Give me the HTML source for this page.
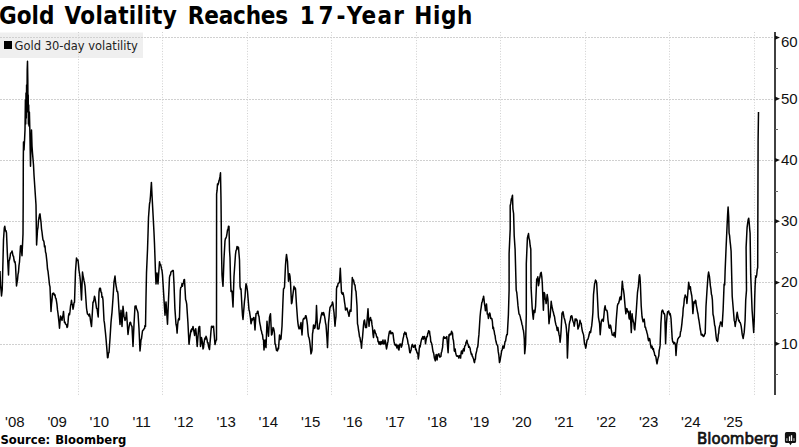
<!DOCTYPE html>
<html><head><meta charset="utf-8"><style>
html,body{margin:0;padding:0;background:#fff;}
body{width:799px;height:447px;overflow:hidden;position:relative;font-family:"DejaVu Sans","Liberation Sans",sans-serif;}
#title{position:absolute;left:0;top:1.5px;width:799px;height:30px;font-family:"DejaVu Sans Condensed","DejaVu Sans",sans-serif;font-stretch:condensed;font-weight:bold;font-size:24px;color:#000;white-space:nowrap;}
#title span{position:absolute;top:0;}
#legend{position:absolute;left:0;top:32px;width:143px;height:26px;}
#legend .sq{position:absolute;left:4px;top:9px;width:8px;height:8px;background:#000;}
#legend .tx{position:absolute;left:14.6px;top:7.3px;font-size:11.5px;color:#222;white-space:nowrap;}
#src{position:absolute;left:0.5px;top:433px;font-weight:bold;font-size:11.6px;color:#000;white-space:nowrap;word-spacing:1px;}
svg{position:absolute;left:0;top:0;}
</style></head><body>
<svg width="799" height="447" viewBox="0 0 799 447">
<rect x="0" y="32.5" width="143" height="25.5" fill="#efefef"/>
<g stroke="#d0d0d0" stroke-width="1" fill="none"><line x1="0" y1="344.5" x2="774" y2="344.5" stroke-dasharray="2,1"/><line x1="0" y1="282.5" x2="774" y2="282.5" stroke-dasharray="2,1"/><line x1="0" y1="221.5" x2="774" y2="221.5" stroke-dasharray="2,1"/><line x1="0" y1="160.5" x2="774" y2="160.5" stroke-dasharray="2,1"/><line x1="0" y1="99.5" x2="774" y2="99.5" stroke-dasharray="2,1"/><line x1="0" y1="37.5" x2="774" y2="37.5" stroke-dasharray="2,1"/><line x1="78.5" y1="32" x2="78.5" y2="395" stroke-dasharray="1,1.7"/><line x1="162.5" y1="32" x2="162.5" y2="395" stroke-dasharray="1,1.7"/><line x1="247.5" y1="32" x2="247.5" y2="395" stroke-dasharray="1,1.7"/><line x1="331.5" y1="32" x2="331.5" y2="395" stroke-dasharray="1,1.7"/><line x1="416.5" y1="32" x2="416.5" y2="395" stroke-dasharray="1,1.7"/><line x1="500.5" y1="32" x2="500.5" y2="395" stroke-dasharray="1,1.7"/><line x1="585.5" y1="32" x2="585.5" y2="395" stroke-dasharray="1,1.7"/><line x1="669.5" y1="32" x2="669.5" y2="395" stroke-dasharray="1,1.7"/><line x1="754.5" y1="32" x2="754.5" y2="395" stroke-dasharray="1,1.7"/></g>
<polyline fill="none" stroke="#000" stroke-width="1.5" stroke-linejoin="round" points="0.0,271.0 0.5,285.0 1.0,289.8 1.5,296.0 2.2,290.0 3.0,260.0 3.5,240.0 4.3,228.0 4.8,226.3 5.5,231.0 6.0,230.6 6.5,233.0 7.0,245.0 7.3,252.5 8.5,275.0 9.0,261.0 9.5,259.9 10.0,257.5 10.5,253.5 11.0,253.0 11.5,252.1 12.0,251.0 12.5,253.0 13.0,256.0 13.5,256.2 14.0,260.0 14.5,262.0 15.0,261.6 15.5,265.0 16.5,286.0 17.0,282.7 17.5,280.0 18.0,274.3 18.5,272.0 19.0,265.4 19.5,262.0 20.5,246.0 21.0,245.6 21.5,250.3 22.0,255.7 22.5,245.0 23.0,234.0 23.2,200.0 23.3,160.0 23.5,142.0 24.0,150.0 24.5,141.0 25.0,130.0 25.4,100.0 25.7,124.0 26.0,93.0 26.3,118.0 26.6,85.0 26.9,112.0 27.2,70.0 27.5,61.3 27.8,80.0 28.0,110.0 28.2,95.0 28.4,124.0 28.7,105.0 29.0,126.0 29.4,112.0 29.8,128.0 30.5,166.3 31.0,145.0 31.5,130.0 32.0,146.0 32.5,153.0 33.5,165.0 34.0,175.0 35.0,190.0 36.0,205.0 36.5,240.0 36.6,245.0 37.5,230.0 38.0,227.3 38.5,220.5 39.0,218.0 39.5,214.8 40.0,213.8 40.5,218.4 41.0,222.0 41.5,228.8 42.0,232.0 42.5,236.3 43.0,240.0 43.5,240.6 44.0,242.0 44.5,246.8 45.0,245.9 45.5,252.0 46.0,253.4 46.5,257.8 47.0,262.4 47.5,269.0 48.0,271.2 48.5,275.7 49.0,280.2 49.5,284.8 50.0,286.9 51.0,311.4 51.5,304.2 52.0,299.9 52.5,293.6 53.0,294.2 53.5,293.1 54.0,293.6 54.5,295.3 55.0,294.8 55.5,298.0 56.0,298.5 56.5,301.3 57.0,304.7 57.5,309.9 58.0,313.3 58.5,318.0 59.0,322.4 59.5,328.2 60.5,315.9 61.0,317.7 61.5,318.7 62.0,320.4 62.5,316.6 63.0,315.6 63.5,311.4 64.0,317.8 64.5,322.6 65.0,322.1 65.5,324.0 66.0,324.4 66.5,324.8 67.0,327.4 67.5,327.0 68.0,322.4 68.5,315.9 69.0,313.6 69.5,314.8 70.0,311.4 70.5,306.2 71.0,303.7 71.5,300.3 72.0,304.3 72.5,304.8 73.0,309.2 73.5,306.9 74.0,302.9 74.5,302.5 75.5,271.3 76.5,257.9 77.0,259.3 77.5,260.4 78.0,260.0 78.5,264.8 79.0,270.5 79.5,273.5 80.0,277.2 80.5,282.4 81.5,300.0 82.5,272.0 83.0,275.6 83.5,278.0 84.0,280.7 84.5,283.0 85.0,286.0 86.5,308.0 87.0,311.5 87.5,314.0 88.0,314.4 88.5,314.8 89.0,316.1 89.5,314.1 90.0,316.4 90.5,320.6 91.0,323.7 91.5,326.5 93.0,302.0 93.5,302.0 94.0,299.4 94.5,296.2 95.0,298.0 95.5,301.1 96.0,304.3 96.5,308.1 97.1,308.7 97.7,313.7 98.2,317.0 99.0,292.2 99.5,288.8 100.0,288.1 100.5,288.6 101.0,292.2 101.5,292.4 102.0,297.3 102.5,296.7 103.0,300.2 104.0,320.4 104.5,323.4 105.0,328.5 105.5,333.1 106.0,338.5 107.0,350.6 107.5,357.7 108.0,357.5 108.5,352.7 109.0,352.7 110.0,338.5 111.0,322.4 111.5,317.1 112.0,312.3 113.0,298.2 114.0,282.0 114.5,279.2 115.0,276.0 115.5,281.5 116.0,285.3 116.5,288.0 117.0,291.5 117.5,291.2 118.0,294.2 119.0,310.3 120.0,324.4 121.0,310.3 122.0,326.5 123.0,306.3 123.5,311.0 124.0,316.4 124.5,317.8 125.0,320.4 125.5,319.2 126.0,316.8 126.5,312.3 128.0,334.5 128.5,330.1 129.0,327.2 129.5,324.4 130.0,322.4 130.5,322.3 131.0,324.3 131.5,325.8 132.0,326.4 133.0,346.5 134.0,324.2 135.0,306.3 135.5,306.1 136.0,305.8 136.5,308.6 137.0,309.7 137.5,311.0 138.0,313.0 139.0,328.7 140.0,351.0 140.5,345.7 141.0,339.8 141.5,338.6 142.0,334.6 142.5,330.9 143.0,330.2 143.5,329.9 144.0,328.7 144.5,328.6 145.0,325.4 145.5,326.4 146.0,297.4 146.5,272.9 147.5,250.0 148.0,234.6 148.5,217.5 149.5,204.0 150.0,201.4 150.5,195.7 151.4,182.4 152.0,195.0 153.0,213.7 154.0,232.7 154.5,244.0 155.0,258.0 155.5,272.9 156.0,284.0 156.5,279.6 157.0,272.9 157.5,279.9 158.0,284.0 159.5,261.7 160.0,264.4 160.5,264.3 161.0,266.2 161.5,268.7 162.0,270.5 162.5,275.0 164.0,299.6 165.0,315.3 166.0,301.9 167.5,324.2 168.5,299.6 169.5,277.3 170.0,275.1 170.5,275.0 170.9,272.1 171.4,271.4 171.9,271.4 172.4,270.5 172.8,270.6 173.3,270.6 174.0,284.0 174.9,308.6 176.0,324.2 176.6,326.9 177.1,333.1 177.7,324.4 178.3,319.7 178.9,318.3 179.4,319.7 180.3,290.7 180.7,287.6 181.2,287.2 181.6,286.2 182.0,283.6 182.5,286.2 182.9,284.0 183.4,283.0 184.0,279.7 184.5,279.6 185.6,299.6 186.1,300.9 186.7,304.1 187.9,322.0 189.0,344.3 189.5,340.0 190.0,336.3 190.5,333.1 191.0,330.1 191.4,331.6 191.9,328.7 192.4,329.5 193.0,326.4 193.5,329.3 194.1,332.3 194.6,335.4 195.1,330.4 195.7,328.7 196.2,333.0 196.7,339.9 197.2,346.5 198.6,328.7 199.1,326.6 199.7,326.4 200.5,346.5 201.0,343.4 201.5,337.6 202.0,340.0 202.5,343.2 203.0,348.9 203.5,347.7 204.0,343.1 204.5,340.0 205.0,338.0 205.5,339.0 206.0,336.3 206.5,337.6 207.0,339.4 207.5,342.8 208.0,342.6 208.5,346.4 209.0,348.0 209.5,349.5 210.0,342.7 210.5,337.4 211.0,330.8 211.5,326.3 212.0,327.4 212.5,326.4 213.0,327.4 213.5,326.3 215.0,344.5 215.5,342.3 216.0,340.4 216.5,340.0 216.6,194.0 217.1,190.2 217.5,184.0 218.0,184.8 218.5,183.1 219.0,180.6 219.5,179.2 220.0,176.7 220.5,172.8 221.0,200.0 221.5,250.0 222.0,275.0 222.5,281.6 223.0,286.3 224.0,258.8 225.0,240.9 225.5,238.3 226.0,238.0 226.5,236.4 227.0,233.6 227.5,230.0 228.0,229.7 228.5,226.2 229.0,226.4 229.5,250.0 230.0,257.5 230.5,278.8 231.0,291.4 231.5,290.5 232.0,291.4 233.0,306.9 234.0,276.3 235.5,254.3 236.0,250.7 236.5,249.9 237.0,246.5 237.5,248.7 238.0,247.0 238.5,247.6 239.5,260.0 240.0,286.3 240.5,289.3 241.0,288.8 242.0,307.5 242.5,315.4 243.0,319.4 244.5,301.0 245.0,297.1 245.5,289.0 246.0,283.8 246.5,285.2 247.0,287.8 247.5,291.4 249.0,310.0 249.5,311.3 250.0,315.0 250.5,318.2 251.0,323.8 251.5,321.8 252.0,318.8 252.5,320.1 253.0,319.5 253.5,317.7 254.0,317.5 255.0,330.0 256.0,313.8 256.5,313.6 257.0,313.3 257.5,311.3 258.0,311.3 258.5,315.3 259.0,316.3 259.5,321.3 260.0,324.1 260.5,326.3 261.0,329.8 261.5,331.2 262.0,333.8 262.5,334.6 263.0,339.1 263.5,340.0 264.0,350.0 264.5,344.3 265.0,340.0 265.5,345.0 266.0,347.6 267.0,321.3 267.5,328.2 268.0,330.9 268.5,336.3 269.5,317.5 270.0,315.3 270.5,313.8 271.5,335.0 272.0,334.3 272.5,331.0 273.0,327.6 273.5,328.3 274.0,330.2 274.5,333.8 275.0,343.9 275.5,344.4 276.0,347.6 276.5,350.4 277.0,350.0 277.5,350.9 278.0,347.9 278.5,348.9 279.5,335.0 280.0,337.6 280.5,339.5 281.0,338.8 282.0,326.3 283.0,300.0 283.5,288.8 284.0,288.5 284.5,287.0 285.5,265.0 286.0,259.1 286.5,254.4 287.0,258.0 287.5,261.3 288.5,281.3 289.0,276.1 289.5,273.8 290.0,276.3 290.5,282.6 291.5,303.8 292.0,302.4 292.5,297.8 293.0,293.9 293.5,290.2 294.0,286.3 294.5,288.9 295.0,287.7 295.5,288.8 296.5,305.0 297.5,318.8 298.0,323.6 298.5,326.8 299.0,328.8 299.5,327.6 300.0,328.8 300.5,324.7 301.0,322.6 302.0,335.0 303.0,320.0 303.5,318.8 304.0,318.2 304.5,318.8 305.0,318.1 305.5,315.8 306.0,315.7 306.5,318.2 307.0,321.3 307.5,325.5 308.0,332.6 308.5,336.7 309.0,337.6 309.5,340.2 310.0,343.9 310.5,348.7 311.0,353.9 311.5,352.3 312.0,350.0 312.5,333.8 313.0,331.0 313.5,325.0 314.0,325.5 314.5,328.4 315.0,327.6 315.5,323.8 316.0,320.0 316.5,305.6 317.5,328.8 318.0,328.9 318.5,328.9 319.0,328.8 319.5,323.8 320.0,322.6 320.5,319.2 321.0,316.3 321.5,314.2 322.0,312.6 322.5,313.8 323.0,315.0 323.5,312.5 324.0,313.8 324.5,316.2 325.0,318.8 325.5,322.8 326.0,325.0 327.0,338.8 327.5,347.6 328.5,322.6 329.0,317.8 329.5,311.8 330.0,307.5 330.5,306.7 331.0,306.1 331.5,305.0 332.0,304.6 332.5,301.9 333.0,303.9 333.5,309.2 334.0,312.5 335.0,326.3 335.5,320.3 336.0,316.3 336.5,288.8 337.0,286.2 337.5,286.6 338.0,283.8 338.5,283.2 339.0,282.8 339.5,282.0 340.3,268.2 341.5,292.6 342.0,293.6 342.5,294.2 343.0,292.6 343.5,294.9 344.0,297.6 344.5,301.8 345.0,305.0 345.5,310.0 346.0,309.4 346.5,308.7 347.0,308.0 347.5,310.8 348.0,312.0 348.5,314.0 349.0,316.3 349.5,313.3 350.0,310.0 350.5,310.6 351.0,311.3 352.3,277.6 352.9,280.6 353.5,280.0 354.0,282.5 354.5,284.8 355.0,285.0 355.5,290.0 356.0,291.4 357.0,306.0 357.5,323.8 358.0,325.9 358.5,330.0 359.0,332.8 359.5,336.8 360.0,337.6 360.5,341.5 361.0,342.6 361.5,348.2 362.0,341.4 362.5,337.6 363.5,325.0 364.0,321.0 364.5,320.0 365.0,323.6 365.5,327.6 366.0,325.9 366.5,327.6 368.0,308.8 369.0,326.3 369.5,321.5 370.0,318.8 370.5,317.5 371.0,320.3 371.5,320.0 372.0,324.9 372.5,327.6 373.0,334.2 373.5,337.6 374.0,331.3 374.5,329.9 375.0,331.3 375.5,333.4 376.0,333.8 376.5,336.3 377.0,337.6 377.5,337.4 378.0,341.7 378.5,341.4 379.0,344.1 379.5,341.9 380.0,343.9 380.5,344.5 381.0,341.4 381.5,342.2 382.0,343.9 382.5,341.9 383.0,340.0 383.5,343.9 384.0,343.9 384.5,343.3 385.0,340.0 385.5,341.6 386.0,345.7 386.5,348.9 387.0,346.5 387.5,343.3 388.0,341.4 388.5,336.8 389.0,333.9 389.5,331.3 390.0,333.0 390.5,331.0 391.0,333.8 391.5,333.6 392.0,332.8 392.5,332.6 393.0,333.6 393.5,337.8 394.0,341.4 394.5,343.7 395.0,345.0 395.5,345.5 396.0,344.2 396.5,346.4 397.0,347.9 397.5,346.6 398.0,345.0 398.5,349.4 399.0,350.0 399.5,345.4 400.0,343.9 400.4,344.1 400.9,344.3 401.3,347.3 401.9,345.8 402.5,342.0 403.1,338.4 403.6,336.6 404.0,333.6 404.5,333.3 404.9,332.1 405.5,334.2 406.1,333.0 406.6,337.0 407.2,338.4 407.6,340.1 408.1,343.8 408.7,345.0 409.3,349.1 409.8,352.6 410.2,352.7 410.6,351.2 411.1,349.9 411.5,347.3 412.0,345.1 412.4,344.4 412.9,345.6 413.4,347.2 413.8,347.3 414.2,346.2 414.7,345.6 415.2,345.1 415.6,349.7 416.1,349.1 416.5,350.8 417.0,352.7 417.4,352.7 417.9,354.2 418.3,359.0 418.8,355.5 419.2,349.1 419.7,345.6 420.1,347.0 420.6,343.8 421.0,341.8 421.5,339.6 421.9,338.4 422.4,337.7 422.8,336.6 423.2,339.2 423.7,338.4 424.1,336.6 424.6,336.6 425.1,338.7 425.5,343.8 425.9,341.2 426.4,338.4 426.9,336.5 427.3,336.6 427.8,333.2 428.2,333.0 428.6,330.7 429.1,331.2 429.5,331.2 429.9,334.8 430.4,337.2 430.8,342.0 431.2,342.1 431.7,343.8 432.1,345.7 432.6,349.1 433.1,351.9 433.5,352.7 433.9,354.6 434.4,358.1 434.9,359.5 435.3,360.8 435.8,356.4 436.2,354.5 436.6,356.6 437.1,359.9 437.6,355.3 438.0,354.5 438.5,354.1 438.9,353.8 439.4,356.3 439.9,357.2 440.4,356.5 440.9,356.3 441.3,352.7 441.8,351.4 442.2,349.1 442.6,347.3 443.0,342.0 443.4,337.7 443.9,336.6 444.4,338.3 445.0,337.5 445.4,337.7 445.9,338.4 446.4,337.5 446.8,336.6 448.1,352.7 449.0,334.8 449.4,335.7 449.9,333.9 450.4,333.9 450.8,334.8 451.2,333.0 451.6,331.2 452.1,332.9 452.5,333.0 452.9,338.5 453.4,340.2 453.9,344.9 454.3,350.9 454.8,351.3 455.2,349.1 455.6,352.6 456.1,354.5 456.6,355.9 457.0,356.3 457.4,355.9 457.9,356.3 458.4,356.6 458.8,358.1 459.2,355.4 459.7,356.3 460.1,355.7 460.6,358.1 461.1,352.8 461.5,350.9 461.9,353.2 462.4,353.6 462.9,350.4 463.3,349.1 463.8,348.7 464.2,350.9 464.6,346.6 465.1,345.6 465.6,345.2 466.0,342.0 466.4,342.6 466.9,340.2 467.4,342.7 467.8,343.8 468.2,344.7 468.7,347.3 469.1,346.3 469.6,347.3 470.1,348.3 470.5,350.9 470.9,352.5 471.4,354.5 471.9,354.0 472.3,356.3 472.8,357.0 473.2,358.1 473.6,359.0 474.1,361.7 474.5,362.6 474.9,359.9 475.4,359.1 475.8,354.5 476.2,352.9 476.7,350.9 477.1,348.1 477.6,347.3 478.0,345.0 478.5,338.3 478.9,334.9 480.1,316.3 480.6,311.2 481.2,307.3 481.8,302.6 482.3,301.8 482.7,299.5 483.2,298.0 483.6,296.2 484.1,300.1 484.5,304.0 484.9,306.2 485.4,310.7 485.9,307.4 486.5,304.0 487.3,314.1 487.9,314.3 488.4,318.5 489.0,314.8 489.6,312.9 490.1,314.1 490.7,318.5 491.2,318.1 491.8,318.5 492.4,321.7 492.9,328.6 493.4,327.2 493.8,329.7 494.2,331.2 494.6,334.2 495.1,335.6 495.5,339.2 496.1,341.8 496.6,343.7 497.1,344.9 497.7,345.9 498.2,351.4 498.8,354.8 499.5,362.6 500.1,360.5 500.6,357.1 501.1,354.6 501.7,350.4 502.3,349.7 502.9,345.9 503.4,346.6 504.0,348.1 504.6,344.1 505.1,341.4 505.6,341.1 506.2,337.0 506.8,334.4 507.3,334.7 508.4,314.6 509.1,290.1 509.1,253.7 510.2,229.1 510.2,205.7 510.8,203.2 511.3,199.0 511.9,197.7 512.5,195.2 512.9,209.0 513.6,213.5 514.2,235.8 515.1,249.2 516.2,290.1 516.8,292.7 517.4,299.0 518.0,305.9 518.5,310.2 519.0,314.0 519.6,314.6 520.3,316.9 520.8,319.6 521.4,321.3 522.0,324.5 522.5,325.8 523.0,329.3 523.4,330.3 523.8,333.3 524.3,339.2 524.7,353.7 525.2,348.8 525.6,343.7 526.3,314.6 526.3,263.7 527.4,238.0 528.0,235.8 528.5,233.6 529.0,238.3 529.6,240.3 530.2,246.0 530.8,249.2 531.1,287.9 532.2,308.0 532.8,314.9 533.3,319.2 534.0,310.3 534.5,311.7 534.9,312.5 535.6,305.8 536.7,279.0 537.2,279.5 537.8,276.8 538.5,285.7 539.0,283.1 539.4,279.0 540.0,277.0 540.5,273.4 541.2,272.3 541.8,276.8 542.3,283.5 543.4,310.3 544.1,292.4 544.7,293.9 545.2,299.1 545.7,299.9 546.1,303.6 546.7,298.5 547.2,294.6 547.9,299.1 549.0,323.7 549.5,318.8 550.1,317.0 551.2,301.3 551.8,306.0 552.3,308.0 552.8,310.5 553.4,312.5 554.0,315.3 554.6,317.0 555.0,320.3 555.5,322.8 556.0,325.0 556.5,326.2 557.2,330.5 557.9,327.6 558.5,331.2 559.1,334.9 559.6,336.6 560.1,342.2 560.6,337.5 561.1,330.5 562.0,313.1 562.5,313.3 563.0,311.6 563.5,314.5 564.0,317.4 564.5,319.0 564.9,320.3 565.4,323.1 565.9,324.7 566.4,328.8 566.9,336.3 567.4,358.1 568.4,333.4 568.8,330.0 569.2,324.7 569.8,321.5 570.3,320.3 570.8,316.4 571.3,316.0 571.8,315.8 572.2,317.4 572.7,320.5 573.2,321.8 573.7,322.8 574.2,326.2 574.7,323.5 575.1,318.9 575.6,320.8 576.1,318.9 576.6,319.6 577.1,320.3 577.5,324.2 578.0,329.1 578.5,327.6 579.0,326.2 579.5,324.0 580.0,320.3 580.6,322.9 581.2,323.3 581.6,326.7 582.0,329.1 582.5,331.8 583.1,333.4 583.6,335.1 584.0,338.8 584.5,343.6 585.1,344.9 585.7,348.2 586.2,345.8 586.8,341.5 587.3,339.6 587.9,339.3 588.5,337.3 589.1,334.8 589.6,332.1 590.1,331.6 590.6,332.6 591.2,328.3 591.7,325.9 592.3,319.9 592.9,312.5 593.5,294.6 594.0,289.8 594.6,283.5 595.0,282.5 595.5,280.1 596.1,281.0 596.7,283.5 597.3,294.6 598.4,317.0 599.0,320.4 599.6,323.7 600.2,334.8 601.3,321.4 601.8,320.2 602.2,319.2 602.8,320.2 603.3,321.4 604.0,314.7 604.5,308.7 605.1,305.8 605.7,309.6 606.2,310.3 606.8,310.2 607.4,312.5 608.0,320.0 608.5,323.7 609.0,327.6 609.6,328.1 610.2,325.1 610.7,325.9 611.2,329.1 611.8,332.6 612.3,335.0 612.9,334.8 613.5,335.6 614.1,332.6 614.7,334.6 615.2,337.1 616.3,319.2 617.4,305.8 618.0,303.8 618.5,303.6 619.2,301.3 619.8,297.9 620.3,296.9 620.8,299.8 621.2,299.1 622.3,281.2 623.0,287.9 623.5,290.1 624.1,294.6 624.8,303.0 625.3,308.7 625.9,313.8 626.3,309.7 626.7,308.4 627.2,309.4 627.6,312.0 628.1,311.1 628.5,312.3 629.0,317.7 629.4,319.1 629.8,315.1 630.2,311.1 631.3,332.6 632.1,313.8 632.5,318.0 633.0,319.9 633.4,321.8 633.9,323.4 634.3,328.8 634.8,329.9 636.1,313.8 637.5,292.3 637.9,289.5 638.3,286.9 638.8,281.5 639.2,276.2 639.6,274.8 640.0,277.5 640.4,284.2 641.2,305.7 642.0,316.5 642.5,319.1 643.1,321.8 643.7,320.3 644.2,319.1 644.6,322.4 645.0,327.2 645.5,327.1 646.1,329.9 646.5,330.6 646.9,332.6 647.5,334.6 648.0,338.0 648.5,340.7 649.0,340.6 649.5,338.5 650.0,340.3 650.4,343.8 650.9,346.7 651.3,347.9 651.8,345.9 652.3,347.0 652.8,349.6 653.4,348.7 653.8,351.3 654.2,352.1 654.8,355.4 655.4,355.4 655.9,357.1 656.4,360.5 657.0,363.8 657.5,361.1 657.9,358.9 658.4,357.1 658.8,355.7 659.2,350.4 659.7,348.3 660.1,345.4 660.9,323.6 661.7,311.8 662.2,310.4 662.6,310.1 663.2,311.5 663.8,313.5 664.3,313.5 664.8,315.2 665.6,343.7 666.4,323.6 667.1,315.2 667.6,311.7 668.1,311.8 668.7,311.1 669.3,313.5 669.7,314.8 670.1,313.5 670.5,315.1 671.0,318.5 671.8,331.9 672.2,338.7 672.7,342.0 673.2,341.8 673.8,343.7 674.3,342.4 674.8,342.9 675.5,345.4 676.0,355.4 676.8,343.7 677.3,342.1 677.7,339.1 678.2,338.7 678.8,337.3 679.4,337.0 680.0,336.3 680.5,331.9 681.0,330.7 681.4,327.6 681.9,323.6 682.3,319.1 682.8,315.2 683.2,308.5 683.8,305.2 684.4,298.4 684.8,296.9 685.2,295.0 685.7,296.7 686.1,296.7 686.5,298.2 686.9,303.4 687.3,299.3 687.8,293.4 688.7,282.3 689.2,285.5 689.6,289.0 690.0,288.9 690.4,286.8 690.8,290.7 691.3,293.5 691.8,296.0 692.2,300.2 692.9,313.6 693.6,304.6 694.0,301.7 694.5,302.4 695.0,303.0 695.4,300.2 695.8,300.9 696.2,304.6 696.8,307.8 697.4,311.3 698.0,314.0 698.5,318.0 699.0,320.5 699.6,324.7 700.2,329.0 700.7,331.4 701.2,335.0 701.8,334.8 702.3,334.4 702.9,335.9 703.5,336.5 704.1,335.9 704.7,334.0 705.2,333.7 706.0,306.3 707.0,290.2 708.0,276.1 708.6,272.1 709.0,274.3 709.4,276.1 709.9,280.7 710.4,286.2 710.9,288.9 711.4,294.2 711.9,295.8 712.4,300.2 713.0,314.3 713.5,316.2 714.1,320.4 714.6,325.0 715.1,326.4 715.6,331.4 716.1,336.5 716.7,340.5 717.1,339.9 717.5,341.5 717.9,339.6 718.3,334.4 718.7,333.4 719.1,328.4 719.6,326.2 720.1,324.4 720.6,322.0 721.1,322.4 721.6,323.2 722.1,326.4 723.1,310.3 724.1,284.1 724.7,284.9 725.1,271.5 726.1,247.3 727.1,225.2 727.7,213.1 728.1,207.1 728.7,217.1 729.1,233.2 729.6,235.6 730.1,241.3 730.6,245.7 731.1,251.3 732.2,296.2 733.2,308.3 734.2,320.4 734.7,321.8 735.2,326.4 735.7,322.4 736.2,320.4 736.7,315.4 737.2,312.3 737.7,315.6 738.2,318.4 738.7,320.9 739.2,320.4 739.7,322.4 740.2,322.4 740.7,324.1 741.2,326.4 741.7,330.1 742.2,334.4 742.7,336.5 743.2,338.5 743.7,335.0 744.2,332.4 745.1,320.3 745.7,300.2 746.5,290.1 746.1,247.4 747.1,227.3 747.6,223.6 748.2,219.5 748.7,218.2 749.2,222.9 749.7,229.3 750.1,233.3 750.7,274.9 752.1,310.2 753.1,324.3 753.7,332.4 754.3,318.3 754.7,298.2 755.1,286.1 755.7,276.0 756.2,277.3 756.7,274.9 757.2,269.7 757.7,267.5 758.1,140.2 758.5,112.1"/>
<line x1="775" y1="32" x2="775" y2="395" stroke="#111" stroke-width="1.6"/>
<g fill="#111"><polygon points="775,341.6 780,343.8 775,346.0"/><polygon points="775,280.4 780,282.6 775,284.8"/><polygon points="775,219.1 780,221.3 775,223.5"/><polygon points="775,157.9 780,160.1 775,162.3"/><polygon points="775,96.6 780,98.8 775,101.0"/><polygon points="775,35.4 780,37.6 775,39.8"/></g>
<g stroke="#666" stroke-width="1"><line x1="775" y1="374.5" x2="778" y2="374.5"/><line x1="775" y1="313.5" x2="778" y2="313.5"/><line x1="775" y1="252.5" x2="778" y2="252.5"/><line x1="775" y1="191.5" x2="778" y2="191.5"/><line x1="775" y1="129.5" x2="778" y2="129.5"/><line x1="775" y1="68.5" x2="778" y2="68.5"/></g>
<g font-family="Liberation Sans, sans-serif" font-size="15" fill="#111"><text x="781" y="348.6">10</text><text x="781" y="287.4">20</text><text x="781" y="226.1">30</text><text x="781" y="164.9">40</text><text x="781" y="103.6">50</text><text x="781" y="47.0">60</text></g>
<g font-family="Liberation Sans, sans-serif" font-size="15" fill="#111"><text x="14.9" y="426.5" text-anchor="middle">&#39;08</text><text x="57.2" y="426.5" text-anchor="middle">&#39;09</text><text x="99.4" y="426.5" text-anchor="middle">&#39;10</text><text x="141.7" y="426.5" text-anchor="middle">&#39;11</text><text x="183.9" y="426.5" text-anchor="middle">&#39;12</text><text x="226.2" y="426.5" text-anchor="middle">&#39;13</text><text x="268.4" y="426.5" text-anchor="middle">&#39;14</text><text x="310.7" y="426.5" text-anchor="middle">&#39;15</text><text x="352.9" y="426.5" text-anchor="middle">&#39;16</text><text x="395.2" y="426.5" text-anchor="middle">&#39;17</text><text x="437.4" y="426.5" text-anchor="middle">&#39;18</text><text x="479.7" y="426.5" text-anchor="middle">&#39;19</text><text x="521.9" y="426.5" text-anchor="middle">&#39;20</text><text x="564.2" y="426.5" text-anchor="middle">&#39;21</text><text x="606.4" y="426.5" text-anchor="middle">&#39;22</text><text x="648.7" y="426.5" text-anchor="middle">&#39;23</text><text x="690.9" y="426.5" text-anchor="middle">&#39;24</text><text x="733.2" y="426.5" text-anchor="middle">&#39;25</text></g>
<path d="M786.6,432 H794.4 Q796.1,432 796.1,433.7 V441.4 Q796.1,443.1 794.4,443.1 H791.9 L790.5,445.3 L789.1,443.1 H786.6 Q784.9,443.1 784.9,441.4 V433.7 Q784.9,432 786.6,432 Z" fill="#111"/>
<g fill="#fff"><rect x="786.2" y="438.2" width="1.3" height="2.8" opacity="0.6"/><rect x="788.9" y="436.4" width="1.3" height="4.6"/><rect x="790.9" y="435.2" width="1.3" height="5.8"/><rect x="793.3" y="438.2" width="1.3" height="2.8" opacity="0.6"/></g>
<text x="697" y="443.5" font-family="DejaVu Sans, sans-serif" font-size="15" fill="#111" stroke="#111" stroke-width="0.7">Bloomberg</text>
</svg>
<div id="legend"><div class="sq"></div><div class="tx">Gold 30-day volatility</div></div>
<div id="title"><span style="left:-1px">Gold</span> <span style="left:64.6px;letter-spacing:0.35px">Volatility</span> <span style="left:187.8px;letter-spacing:-0.2px">Reaches</span> <span style="left:299.8px">1</span><span style="left:318.4px">7</span><span style="left:336.6px">-</span><span style="left:346.8px;letter-spacing:1.3px">Year</span> <span style="left:414.3px;letter-spacing:0.6px">High</span></div>
<div id="src">Source: Bloomberg</div>
</body></html>
